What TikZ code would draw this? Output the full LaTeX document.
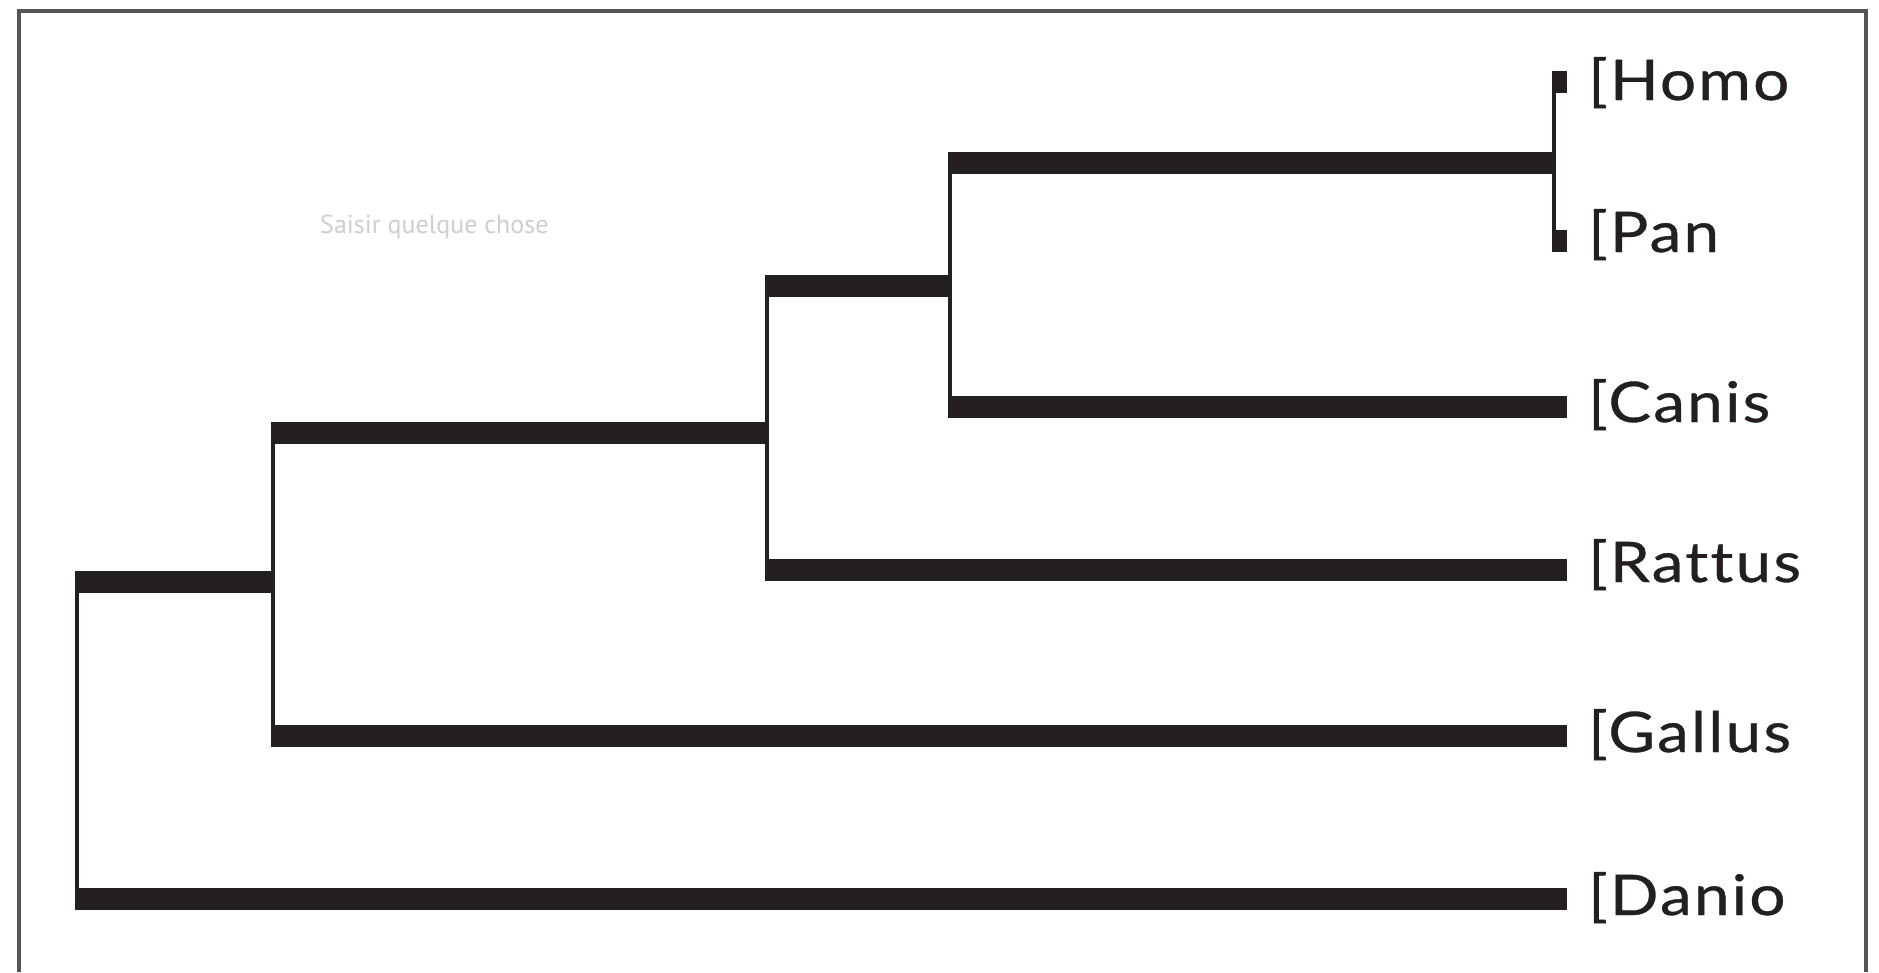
\documentclass[tikz,border=0pt]{standalone}
\usepackage{fontspec}
\newfontfamily\labelfont{Lato}[Ligatures=NoCommon, FakeStretch=1.14, LetterSpace=4, FakeBold=0.6]
\newfontfamily\hintfont{PT Sans}
\definecolor{barcol}{HTML}{231F20}
\definecolor{framecol}{HTML}{555555}
\definecolor{hintcol}{HTML}{CFCFCF}
\begin{document}
\begin{tikzpicture}[x=1pt,y=-1pt,
  bar/.style={draw=barcol, line width=22pt, line cap=butt, shorten <=-2pt},
  ibar/.style={bar, shorten >=-2pt},
  stem/.style={draw=barcol, line width=3.5pt, line cap=butt},
  leaf/.style={anchor=base west, inner sep=0pt, text=barcol,
    font=\labelfont\fontsize{56}{60}\selectfont},
  hint/.style={anchor=base west, inner sep=0pt, text=hintcol,
    font=\hintfont\fontsize{26}{30}\selectfont}]
\useasboundingbox (0,0) rectangle (1879,972);
\fill[white] (0,0) rectangle (1879,972);
% frame
\draw[framecol, line width=3.5pt] (19,972) -- (19,11) -- (1866,11) -- (1866,972);
% hint text
\node[hint] (hint) at (320,233) {Saisir quelque chose};
% internal nodes (stem x, y where the parent bar arrives)
\coordinate (R)  at (77,740);
\coordinate (N2) at (273,582);
\coordinate (N3) at (767,433);
\coordinate (N4) at (950,286);
\coordinate (N5) at (1554,163);
% leaf tips
\coordinate (tHomo)   at (1567,82);
\coordinate (tPan)    at (1567,241);
\coordinate (tCanis)  at (1567,407);
\coordinate (tRattus) at (1567,570);
\coordinate (tGallus) at (1567,736);
\coordinate (tDanio)  at (1567,899);
% labels
\node[leaf] (Homo)   at (1588,100) {[Homo};
\node[leaf] (Pan)    at (1588,252) {[Pan};
\node[leaf] (Canis)  at (1588,422) {[Canis};
\node[leaf] (Rattus) at (1588,582) {[Rattus};
\node[leaf] (Gallus) at (1588,752) {[Gallus};
\node[leaf] (Danio)  at (1588,915) {[Danio};
% stems
\draw[stem] (R |- N2) -- (R |- tDanio);
\draw[stem] (N2 |- N3) -- (N2 |- tGallus);
\draw[stem] (N3 |- N4) -- (N3 |- tRattus);
\draw[stem] (N4 |- N5) -- (N4 |- tCanis);
\draw[stem] (N5 |- tHomo) -- (N5 |- tPan);
% branches
\draw[ibar] (R |- N2) -- (N2);
\draw[bar]  (R |- tDanio) -- (tDanio);
\draw[ibar] (N2 |- N3) -- (N3);
\draw[bar]  (N2 |- tGallus) -- (tGallus);
\draw[ibar] (N3 |- N4) -- (N4);
\draw[bar]  (N3 |- tRattus) -- (tRattus);
\draw[ibar] (N4 |- N5) -- (N5);
\draw[bar]  (N4 |- tCanis) -- (tCanis);
\draw[bar]  (N5 |- tHomo) -- (tHomo);
\draw[bar]  (N5 |- tPan) -- (tPan);
\end{tikzpicture}
\end{document}
